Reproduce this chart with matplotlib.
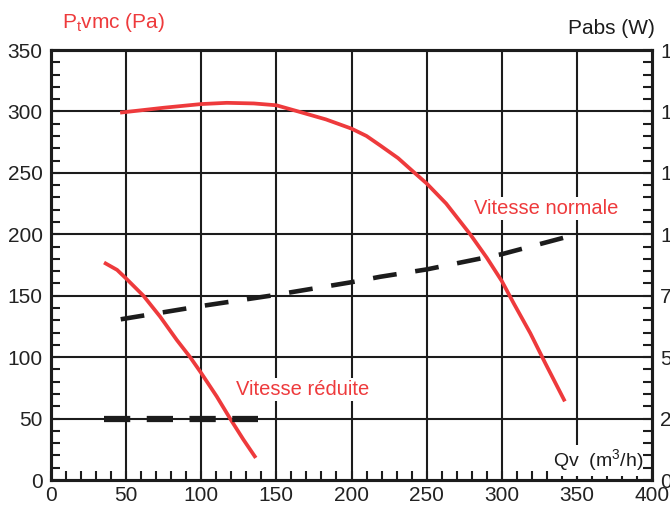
import numpy as np
import matplotlib.pyplot as plt
from matplotlib.ticker import MultipleLocator

plt.rcParams['font.family'] = ['Liberation Sans', 'DejaVu Sans']

RED = '#ee3a3c'
INK = '#1c1c1c'

# pressure curves (Pa) vs airflow Qv (m3/h)
qv_normal = [46, 75, 100, 117, 135, 150, 163, 183, 200, 210, 219, 231, 242, 250, 263,
             279, 290, 300, 308, 319, 329, 342]
p_normal = [299, 303, 306, 307, 306.5, 305, 300.5, 293.5, 286, 280, 272.4, 262, 250,
            241.4, 225, 200, 181, 162, 143.7, 119.5, 95, 64]

qv_reduced = [35.3, 44, 50, 61.5, 72.6, 83.7, 92.6, 100, 110.3, 119.2, 128, 136.3]
p_reduced = [177, 171, 164, 150, 133, 114, 100, 87, 68, 50, 33, 18]

# absorbed power (W), right axis
qv_pabs_normal = [46.4, 100, 146, 200, 219, 250, 300, 343.7]
pabs_normal = [65.4, 70.8, 75, 80.5, 82.7, 85.7, 91.9, 99]

qv_pabs_reduced = [35, 137.5]
pabs_reduced = [25, 25]

fig = plt.figure(figsize=(6.7, 5.08), dpi=100)
ax = fig.add_axes([51 / 670, 28 / 508, 601 / 670, 430 / 508])
ax2 = ax.twinx()

ax.set_xlim(0, 400)
ax.set_ylim(0, 350)
ax2.set_ylim(0, 175)

# grid
for x in range(50, 400, 50):
    ax.axvline(x, color=INK, lw=1.5, zorder=1)
for y in range(50, 350, 50):
    ax.axhline(y, color=INK, lw=1.5, zorder=1)

ax.plot(qv_normal, p_normal, color=RED, lw=2.7, zorder=4,
        solid_capstyle='butt', solid_joinstyle='round')
ax.plot(qv_reduced, p_reduced, color=RED, lw=2.7, zorder=4,
        solid_capstyle='butt', solid_joinstyle='round')
ax2.plot(qv_pabs_normal, pabs_normal, color=INK, lw=3.3, dashes=(5.2, 4.1), zorder=3)
ax2.plot(qv_pabs_reduced, pabs_reduced, color=INK, lw=4.5, dashes=(4.2, 2.64), zorder=3)

for a in (ax, ax2):
    for s in a.spines.values():
        s.set_linewidth(2.2)
        s.set_color(INK)

ax.xaxis.set_major_locator(MultipleLocator(50))
ax.xaxis.set_minor_locator(MultipleLocator(10))
ax.yaxis.set_major_locator(MultipleLocator(50))
ax.yaxis.set_minor_locator(MultipleLocator(10))
ax2.yaxis.set_major_locator(MultipleLocator(25))
ax2.yaxis.set_minor_locator(MultipleLocator(5))

ax.tick_params(which='both', direction='in', color=INK, width=1.5,
               length=6.5, labelsize=15, pad=6, top=False, labelcolor='#222222')
ax.tick_params(axis='x', pad=4)
ax2.tick_params(which='both', direction='in', color=INK, width=1.5,
                length=6.5, labelsize=15, pad=6, labelcolor='#222222')

ax.set_zorder(0)
ax2.set_zorder(1)
ax2.patch.set_visible(False)

bbox = dict(facecolor='white', edgecolor='none', pad=1.5)
fig.text(62 / 670, 1 - 22 / 508, r'P$_\mathregular{t}$vmc (Pa)', color=RED,
         fontsize=15, va='center', ha='left')
fig.text(655 / 670, 1 - 28 / 508, 'Pabs (W)', color=INK,
         fontsize=15, va='center', ha='right')
ax.text(364, 16, r'Qv  (m$^\mathregular{3}$/h)', color=INK, fontsize=14,
        ha='center', va='center', bbox=bbox, zorder=5)
ax.text(329.5, 221, 'Vitesse normale', color=RED, fontsize=14.5,
        ha='center', va='center', bbox=bbox, zorder=5)
ax.text(167.5, 74, 'Vitesse réduite', color=RED, fontsize=14.5,
        ha='center', va='center', bbox=bbox, zorder=5)

fig.savefig('out.png', dpi=100)
